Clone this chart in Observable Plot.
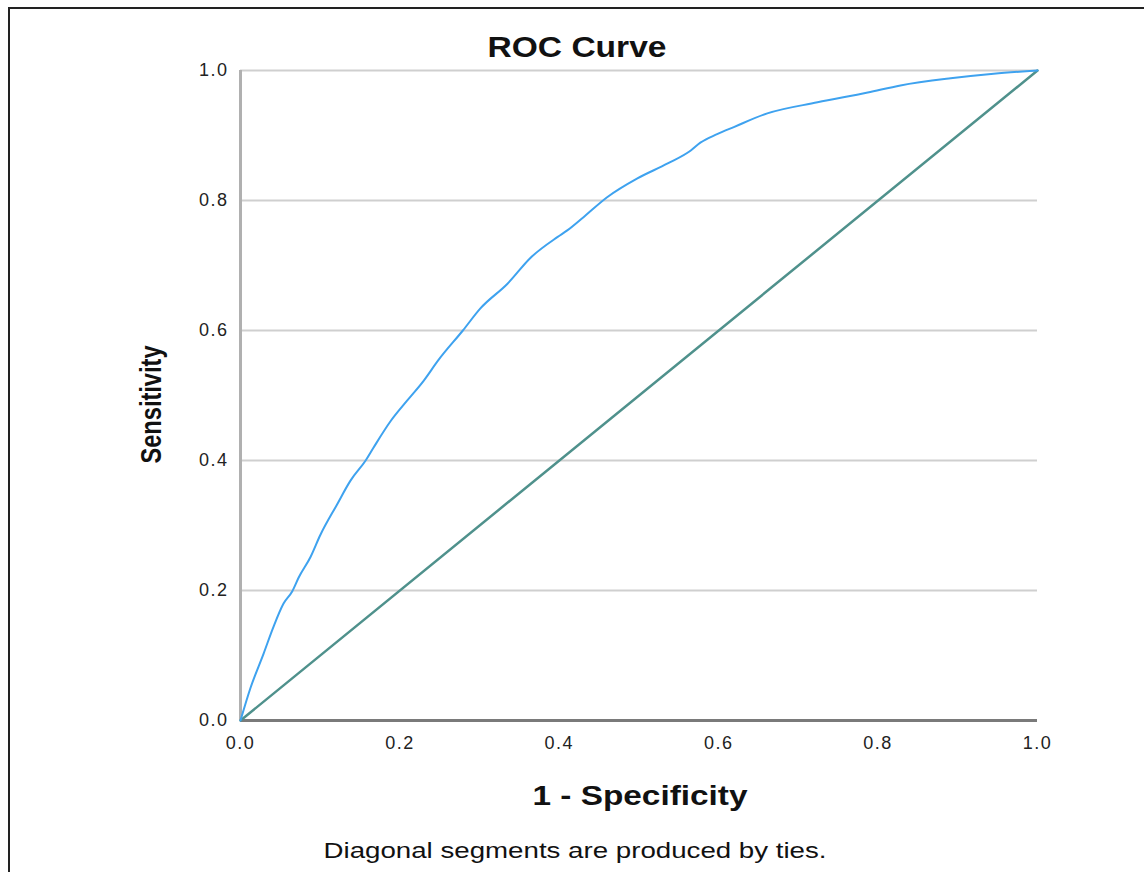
<!DOCTYPE html>
<html>
<head>
<meta charset="utf-8">
<script src="https://cdn.jsdelivr.net/npm/d3@7"></script>
<script src="https://cdn.jsdelivr.net/npm/@observablehq/plot@0.6"></script>
<style>
  body { margin: 0; background: #fff; }
  #wrap { position: relative; width: 1144px; height: 872px; overflow: hidden; }
  #frame { position: absolute; left: 8px; top: 7px; right: -10px; bottom: -10px;
           border-left: 2px solid #222; border-top: 2px solid #222; }
  #chart { position: absolute; left: 0; top: 0; }
</style>
</head>
<body>
<div id="wrap"><div id="frame"></div><div id="chart"></div></div>
<script>
// ROC curve (1 - Specificity, Sensitivity)
const fpr = [0, 0.0125, 0.029, 0.041, 0.054, 0.065, 0.073, 0.088, 0.100, 0.121, 0.138, 0.157, 0.167, 0.188, 0.209, 0.230, 0.248, 0.279, 0.301, 0.335, 0.364, 0.398, 0.410, 0.430, 0.460, 0.498, 0.536, 0.565, 0.577, 0.598, 0.619, 0.661, 0.724, 0.787, 0.828, 0.891, 0.945, 1.0];
const tpr = [0, 0.050, 0.103, 0.143, 0.180, 0.199, 0.220, 0.252, 0.285, 0.332, 0.369, 0.400, 0.420, 0.460, 0.492, 0.523, 0.554, 0.600, 0.634, 0.672, 0.712, 0.744, 0.754, 0.774, 0.805, 0.834, 0.857, 0.877, 0.889, 0.902, 0.913, 0.934, 0.951, 0.966, 0.977, 0.988, 0.995, 1.0];
// Reference line
const refX = [0, 1];
const refY = [0, 1];
// Ticks
const xTicks = [0, 0.2, 0.4, 0.6, 0.8, 1.0];
const yTicks = [0, 0.2, 0.4, 0.6, 0.8, 1.0];
const titleText = "ROC Curve";
const xLabel = "1 - Specificity";
const yLabel = "Sensitivity";
const captionText = "Diagonal segments are produced by ties.";

const curve = fpr.map((x, i) => ({x, y: tpr[i]}));
const ref = refX.map((x, i) => ({x, y: refY[i]}));
const fmt = d3.format(".1f");
const font = "Liberation Sans, Arial, sans-serif";

const chart = Plot.plot({
  width: 1144,
  height: 872,
  marginLeft: 240,
  marginRight: 107,
  marginTop: 70,
  marginBottom: 152,
  style: { fontFamily: font, background: "transparent", overflow: "visible" },
  x: { domain: [0, 1] },
  y: { domain: [0, 1] },
  marks: [
    Plot.ruleY(yTicks, { stroke: "#cfcfcf", strokeWidth: 2 }),
    Plot.ruleX([0], { stroke: "#b0b0b0", strokeWidth: 3 }),
    Plot.ruleY([0], { stroke: "#7a7a7a", strokeWidth: 3 }),
    Plot.line(ref, { x: "x", y: "y", stroke: "#4f918c", strokeWidth: 2.5 }),
    Plot.line(curve, { x: "x", y: "y", stroke: "#3ea2ef", strokeWidth: 2, curve: "monotone-x" }),
    Plot.axisX({ ticks: xTicks, tickFormat: fmt, tickSize: 0, tickPadding: 16, label: null,
                 fontSize: 18, fill: "#222" }),
    Plot.axisY({ ticks: yTicks, tickFormat: fmt, tickSize: 0, tickPadding: 12, label: null,
                 fontSize: 18, fill: "#222" }),
    Plot.text([titleText], { text: d => d, frameAnchor: "top", dx: -62, dy: -23, lineAnchor: "middle",
                 fontSize: 29, fontWeight: "bold", fill: "#111" }),
    Plot.text([xLabel], { text: d => d, frameAnchor: "bottom", dx: 1, dy: 76, lineAnchor: "middle",
                 fontSize: 27, fontWeight: "bold", fill: "#111" }),
    Plot.text([captionText], { text: d => d, frameAnchor: "bottom", dx: -64, dy: 130, lineAnchor: "middle",
                 fontSize: 22, fill: "#111" }),
    Plot.text([yLabel], { text: d => d, frameAnchor: "left", dx: -89, dy: 9, rotate: -90,
                 textAnchor: "middle", lineAnchor: "middle",
                 fontSize: 30, fontWeight: "bold", fill: "#111" })
  ]
});
document.getElementById("chart").appendChild(chart);
const svg = d3.select(chart);
svg.selectAll("g[aria-label='x-axis tick label'] text, g[aria-label='y-axis tick label'] text")
  .style("letter-spacing", "1.5px");
const textNodes = svg.selectAll("g[aria-label='text'] text").nodes();
const specs = [[179, "spacingAndGlyphs"], [215, "spacingAndGlyphs"], [503, "spacingAndGlyphs"], [118, "spacingAndGlyphs"]];
textNodes.forEach((n, i) => {
  if (specs[i]) {
    n.setAttribute("textLength", specs[i][0]);
    n.setAttribute("lengthAdjust", specs[i][1]);
  }
});
</script>
</body>
</html>
